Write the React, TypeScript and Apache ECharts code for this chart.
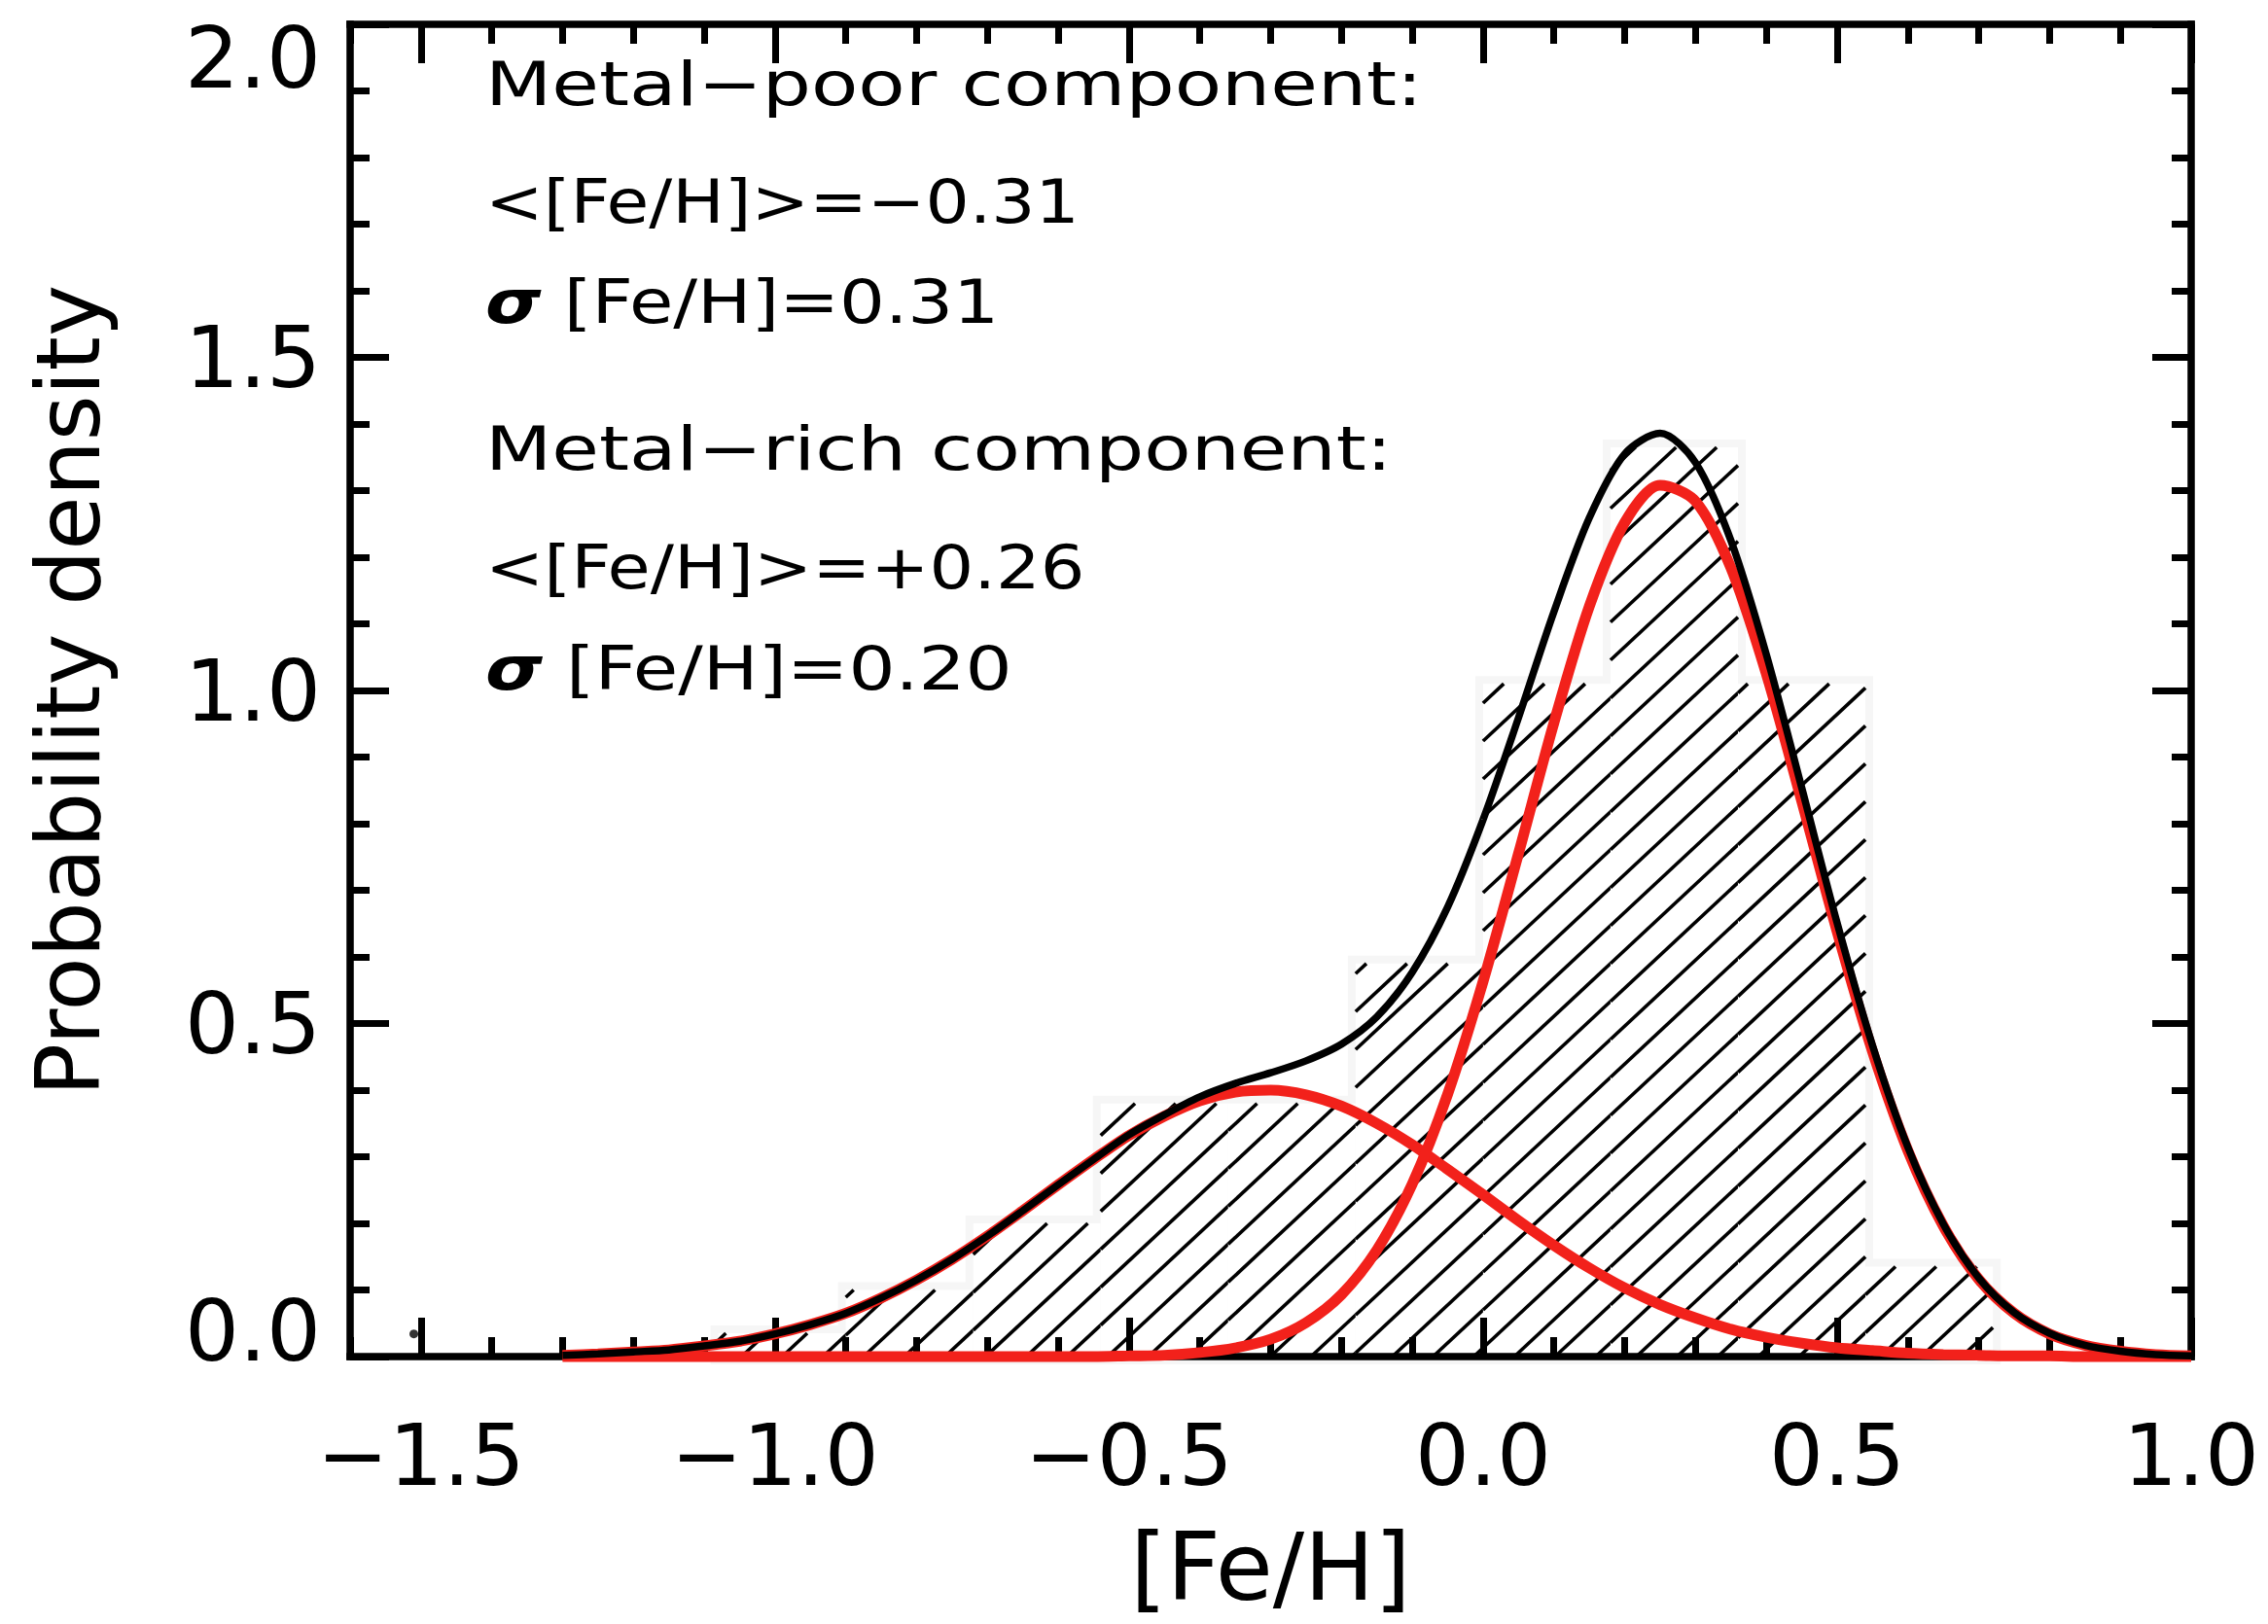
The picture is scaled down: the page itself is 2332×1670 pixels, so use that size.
import React, { useEffect, useRef } from 'react';
import * as echarts from 'echarts';

// ---------- data ----------
const X_RANGE = [-1.6, 1.0];
const Y_RANGE = [0, 2.0];
const X_MAJOR_TICKS = [-1.5, -1.0, -0.5, 0.0, 0.5, 1.0];

// histogram bins of [Fe/H]
const BIN_LEFT = [-1.08, -0.9, -0.72, -0.54, -0.36, -0.18, 0.0, 0.18, 0.36, 0.54];
const BIN_RIGHT = [-0.9, -0.72, -0.54, -0.36, -0.18, 0.0, 0.18, 0.36, 0.54, 0.72];
const BIN_HEIGHT = [0.035, 0.1, 0.2, 0.38, 0.38, 0.59, 1.01, 1.365, 1.01, 0.135];

// curves sampled along [Fe/H]
const CURVE_X = [
  -1.3, -1.25, -1.2, -1.15, -1.1, -1.05, -1.0, -0.95, -0.9, -0.85, -0.8, -0.75,
  -0.7, -0.65, -0.6, -0.55, -0.5, -0.45, -0.4, -0.35, -0.3, -0.25, -0.2, -0.15,
  -0.1, -0.05, 0.0, 0.05, 0.1, 0.15, 0.2, 0.25, 0.3, 0.35, 0.4, 0.45, 0.5, 0.55,
  0.6, 0.65, 0.7, 0.75, 0.8, 0.85, 0.9, 0.95, 1.0,
];
const METAL_POOR = [
  0.002, 0.004, 0.007, 0.01, 0.016, 0.023, 0.034, 0.048, 0.065, 0.088, 0.115, 0.146,
  0.181, 0.219, 0.258, 0.296, 0.332, 0.361, 0.384, 0.397, 0.4, 0.393, 0.376, 0.35,
  0.318, 0.281, 0.243, 0.204, 0.167, 0.133, 0.103, 0.078, 0.058, 0.041, 0.029, 0.02, 0.013, 0.009,
  0.005, 0.003, 0.002, 0.001, 0.001, 0.0, 0.0, 0.0, 0.0,
];
const METAL_RICH = [
  0, 0, 0, 0, 0, 0, 0, 0, 0, 0, 0, 0,
  0, 0, 0, 0, 0.001, 0.002, 0.006, 0.013, 0.026, 0.051, 0.093, 0.16,
  0.259, 0.394, 0.563, 0.755, 0.951, 1.126, 1.252, 1.308, 1.284, 1.184, 1.025, 0.834, 0.638, 0.458,
  0.309, 0.196, 0.116, 0.065, 0.034, 0.017, 0.008, 0.003, 0.001,
];
const TOTAL = [
  0.002, 0.004, 0.007, 0.01, 0.016, 0.023, 0.034, 0.048, 0.065, 0.088, 0.115, 0.146,
  0.181, 0.219, 0.258, 0.296, 0.333, 0.363, 0.39, 0.41, 0.426, 0.444, 0.469, 0.51,
  0.577, 0.675, 0.806, 0.959, 1.118, 1.259, 1.355, 1.386, 1.342, 1.225, 1.054, 0.854, 0.651, 0.467,
  0.314, 0.199, 0.118, 0.066, 0.035, 0.017, 0.008, 0.003, 0.001,
];
const DOT = [[-1.51, 0.034]];

const TEXT_LINES = [
  'Metal\u2212poor component:',
  '<[Fe/H]>=\u22120.31',
  '{s|\u03c3} [Fe/H]=0.31',
  'Metal\u2212rich component:',
  '<[Fe/H]>=+0.26',
  '{s|\u03c3} [Fe/H]=0.20',
];

// ---------- styles ----------
const FONT = '"DejaVu Sans", sans-serif';
const TEXT_BASELINE = [108, 229, 332, 483, 605, 709];
const TEXT_SCALE = [1.256, 1.13, 1.17, 1.256, 1.14, 1.2];
const TEXT_SIZE = 63;
const RED = '#f2211b';

const fmtX = (v: number) => {
  const s = Math.abs(v).toFixed(1);
  return v < -1e-9 ? '\u2212' + s : s;
};

export default function App() {
  const ref = useRef<HTMLDivElement>(null);

  useEffect(() => {
    if (!ref.current) return;
    const chart = echarts.init(ref.current, null, { renderer: 'svg' });

    const histData = BIN_LEFT.map((l, i) => [l, BIN_RIGHT[i], BIN_HEIGHT[i]]);
    const HATCH_GAP = 39;
    const HATCH_T = Math.tan((43 * Math.PI) / 180);

    const rectOf = (api: any) => {
      const p0 = api.coord([api.value(0), api.value(2)]);
      const p1 = api.coord([api.value(1), 0]);
      return { X0: p0[0], Y0: p0[1], X1: p1[0], Y1: p1[1] };
    };

    const renderHalo = (_p: any, api: any) => {
      const { X0, Y0, X1, Y1 } = rectOf(api);
      return {
        type: 'rect',
        shape: { x: X0, y: Y0, width: X1 - X0, height: Y1 - Y0 },
        style: { fill: '#f6f6f6', stroke: '#f6f6f6', lineWidth: 16 },
        silent: true,
      };
    };

    const renderHatch = (_p: any, api: any) => {
      const { X0, Y0, X1, Y1 } = rectOf(api);
      const children: any[] = [
        {
          type: 'rect',
          shape: { x: X0, y: Y0, width: X1 - X0, height: Y1 - Y0 },
          style: { fill: '#ffffff' },
        },
      ];
      const t = HATCH_T;
      const kMin = Math.ceil((Y0 + t * X0) / HATCH_GAP);
      const kMax = Math.floor((Y1 + t * X1) / HATCH_GAP);
      for (let k = kMin; k <= kMax; k++) {
        const c = k * HATCH_GAP;
        const xa = Math.max(X0, (c - Y1) / t);
        const xb = Math.min(X1, (c - Y0) / t);
        if (xb - xa > 0.5) {
          children.push({
            type: 'line',
            shape: { x1: xa, y1: c - t * xa, x2: xb, y2: c - t * xb },
            style: { stroke: '#000', lineWidth: 3.6 },
          });
        }
      }
      return { type: 'group', children, silent: true };
    };

    const axisLineStyle = { color: '#000', width: 7.5, cap: 'square' };
    const tickStyle = { color: '#000', width: 7 };

    const xBase = {
      type: 'value',
      min: X_RANGE[0],
      max: X_RANGE[1],
      gridIndex: 0,
      z: 3,
      splitLine: { show: false },
      axisPointer: { show: false },
    };
    const yBase = {
      type: 'value',
      min: Y_RANGE[0],
      max: Y_RANGE[1],
      interval: 0.5,
      gridIndex: 0,
      z: 3,
      splitLine: { show: false },
      minorSplitLine: { show: false },
      minorTick: { show: true, splitNumber: 5, length: 20, lineStyle: tickStyle },
      axisTick: { show: true, inside: true, length: 40, lineStyle: tickStyle },
      axisLine: { show: true, onZero: false, lineStyle: axisLineStyle },
    };

    const labelFont = { fontSize: 88, fontFamily: FONT, color: '#000' };

    const option: any = {
      animation: false,
      backgroundColor: '#ffffff',
      textStyle: { fontFamily: FONT },
      grid: { left: 360, right: 79, top: 25, bottom: 275, containLabel: false, outerBoundsMode: 'none' },
      xAxis: [
        {
          ...xBase,
          position: 'bottom',
          axisLine: { show: true, onZero: false, lineStyle: axisLineStyle },
          axisTick: { show: true, inside: true, length: 40, lineStyle: tickStyle, customValues: X_MAJOR_TICKS },
          axisLabel: { show: true, customValues: X_MAJOR_TICKS, formatter: fmtX, margin: 57, ...labelFont },
          name: '[Fe/H]',
          nameLocation: 'middle',
          nameGap: 169,
          nameMoveOverlap: false,
          nameTextStyle: { fontSize: 96, fontFamily: FONT, color: '#000' },
        },
        {
          ...xBase,
          position: 'bottom',
          interval: 0.1,
          axisLine: { show: false, onZero: false },
          axisTick: { show: true, inside: true, length: 20, lineStyle: tickStyle },
          axisLabel: { show: false },
        },
        {
          ...xBase,
          position: 'top',
          axisLine: { show: true, onZero: false, lineStyle: axisLineStyle },
          axisTick: { show: true, inside: true, length: 40, lineStyle: tickStyle, customValues: X_MAJOR_TICKS },
          axisLabel: { show: false },
        },
        {
          ...xBase,
          position: 'top',
          interval: 0.1,
          axisLine: { show: false, onZero: false },
          axisTick: { show: true, inside: true, length: 20, lineStyle: tickStyle },
          axisLabel: { show: false },
        },
      ],
      yAxis: [
        {
          ...yBase,
          position: 'left',
          axisLabel: {
            show: true,
            margin: 30,
            ...labelFont,
            formatter: (v: number) => {
              const s = v.toFixed(1);
              if (Math.abs(v - Y_RANGE[0]) < 1e-9) return `{lo|${s}}`;
              if (Math.abs(v - Y_RANGE[1]) < 1e-9) return `{hi|${s}}`;
              return s;
            },
            rich: {
              lo: { ...labelFont, padding: [0, 0, 54, 0] },
              hi: { ...labelFont, padding: [68, 0, 0, 0] },
            },
          },
          name: 'Probability density',
          nameLocation: 'middle',
          nameRotate: 90,
          nameGap: 245,
          nameMoveOverlap: false,
          nameTextStyle: { fontSize: 90, fontFamily: FONT, color: '#000' },
        },
        {
          ...yBase,
          position: 'right',
          axisLabel: { show: false },
        },
      ],
      series: [
        {
          type: 'custom',
          name: 'halo',
          xAxisIndex: 0,
          yAxisIndex: 0,
          z: 1,
          renderItem: renderHalo,
          encode: { x: [0, 1], y: 2 },
          data: histData,
          silent: true,
        },
        {
          type: 'custom',
          name: 'histogram',
          xAxisIndex: 0,
          yAxisIndex: 0,
          z: 2,
          renderItem: renderHatch,
          encode: { x: [0, 1], y: 2 },
          data: histData,
          silent: true,
        },
        {
          type: 'line',
          name: 'Metal-poor component',
          xAxisIndex: 0,
          yAxisIndex: 0,
          z: 5,
          data: CURVE_X.map((x, i) => [x, METAL_POOR[i]]),
          showSymbol: false,
          smooth: 0.3,
          clip: false,
          lineStyle: { color: RED, width: 11 },
          silent: true,
        },
        {
          type: 'line',
          name: 'Metal-rich component',
          xAxisIndex: 0,
          yAxisIndex: 0,
          z: 5,
          data: CURVE_X.map((x, i) => [x, METAL_RICH[i]]),
          showSymbol: false,
          smooth: 0.3,
          clip: false,
          lineStyle: { color: RED, width: 11 },
          silent: true,
        },
        {
          type: 'line',
          name: 'Total',
          xAxisIndex: 0,
          yAxisIndex: 0,
          z: 6,
          data: CURVE_X.map((x, i) => [x, TOTAL[i]]),
          showSymbol: false,
          smooth: 0.3,
          clip: false,
          lineStyle: { color: '#000', width: 7.5 },
          silent: true,
        },
        {
          type: 'scatter',
          name: 'dot',
          xAxisIndex: 0,
          yAxisIndex: 0,
          z: 7,
          data: DOT,
          symbol: 'circle',
          symbolSize: 9,
          itemStyle: { color: '#000' },
          silent: true,
        },
      ],
      graphic: TEXT_LINES.map((txt, i) => ({
        type: 'text',
        x: 499,
        y: TEXT_BASELINE[i] - 22,
        scaleX: TEXT_SCALE[i],
        z: 20,
        silent: true,
        style: {
          text: txt,
          fill: '#000',
          fontSize: TEXT_SIZE,
          fontFamily: FONT,
          align: 'left',
          textAlign: 'left',
          verticalAlign: 'middle',
          textVerticalAlign: 'middle',
          rich: {
            s: {
              fontSize: TEXT_SIZE,
              fontFamily: FONT,
              fontWeight: 'bold',
              fontStyle: 'italic',
              fill: '#000',
              color: '#000',
            },
          },
        },
      })),
    };

    chart.setOption(option);
    return () => chart.dispose();
  }, []);

  return (
    <div
      ref={ref}
      style={{ position: 'fixed', left: 0, top: 0, width: 2332, height: 1670, background: '#fff' }}
    />
  );
}
